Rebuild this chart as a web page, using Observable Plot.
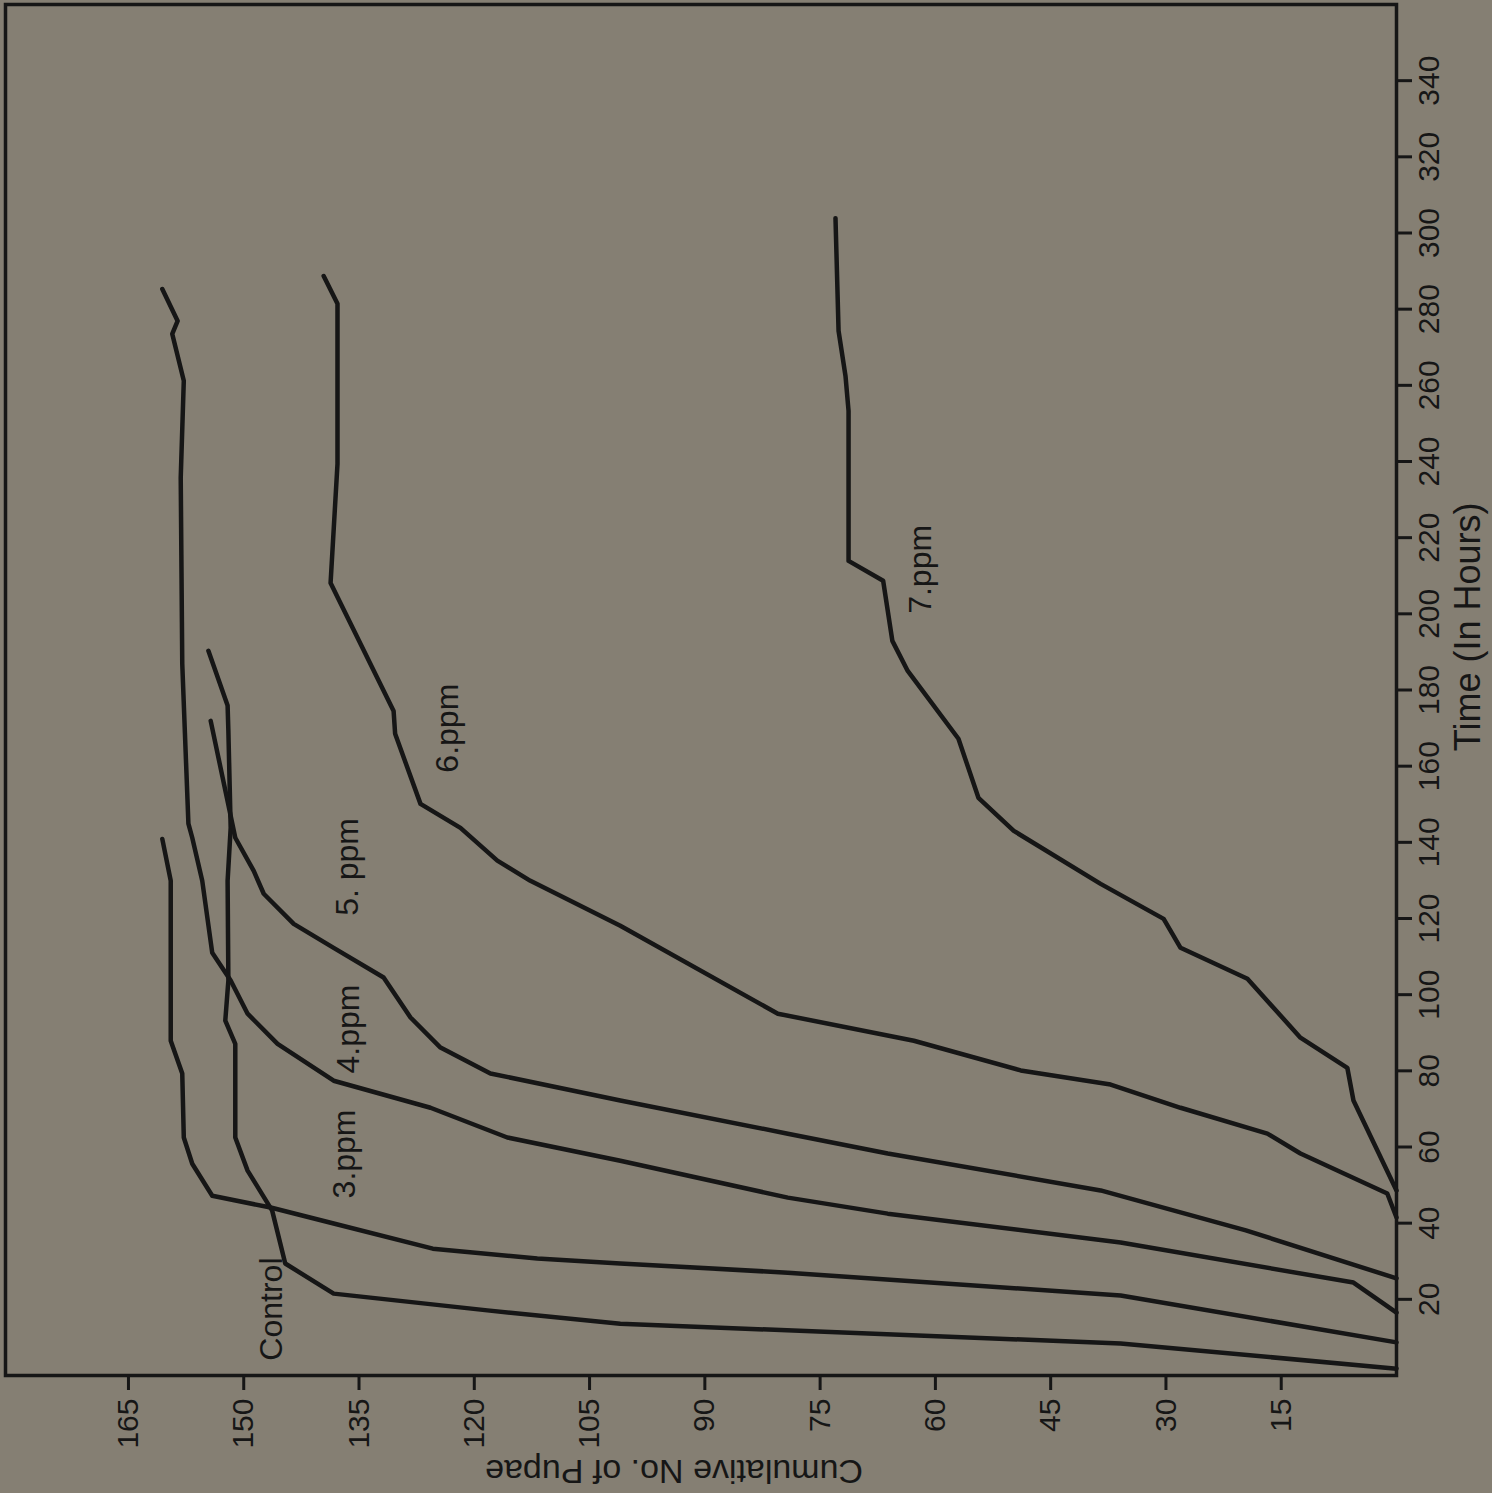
<!DOCTYPE html>
<html>
<head>
<meta charset="utf-8">
<script src="https://cdn.jsdelivr.net/npm/d3@7"></script>
<script src="https://cdn.jsdelivr.net/npm/@observablehq/plot@0.6"></script>
<style>
  html, body { margin: 0; padding: 0; background: #857f73; }
  #chart { width: 1492px; height: 1493px; }
</style>
</head>
<body>
<div id="chart"></div>
<script>
// Tick values
const timeTicks = [20, 40, 60, 80, 100, 120, 140, 160, 180, 200, 220, 240, 260, 280, 300, 320, 340];
const cumTicks = [15, 30, 45, 60, 75, 90, 105, 120, 135, 150, 165];

// Series: time (hours) and cumulative number of pupae
const controlT = [1.8, 8.4, 13.6, 17.1, 21.5, 29.4, 43.3, 53.8, 62.5, 87.1, 93.2, 103.7, 129.9, 143.8, 169.3, 175.9, 190.3];
const controlN = [0, 35.9, 101.0, 118.3, 138.3, 144.6, 146.3, 149.5, 151.1, 151.1, 152.4, 152.0, 152.1, 151.7, 152.0, 152.1, 154.6];

const ppm3T = [8.7, 21.0, 27.0, 29.4, 30.7, 33.3, 39.9, 44.1, 47.2, 55.6, 62.5, 79.3, 87.9, 129.9, 140.9];
const ppm3N = [0, 35.9, 79.2, 101.0, 111.8, 125.4, 138.3, 146.5, 154.1, 156.7, 157.8, 158.0, 159.5, 159.5, 160.6];

const ppm4T = [16.5, 24.4, 34.9, 42.5, 46.7, 56.4, 62.5, 70.3, 77.4, 87.1, 95.0, 103.7, 111.0, 129.9, 141.2, 144.9, 186.9, 235.7, 261.2, 273.5, 276.9, 285.3];
const ppm4N = [0, 5.6, 35.9, 66.2, 79.2, 101.0, 115.7, 125.7, 138.3, 145.6, 149.5, 151.7, 154.1, 155.4, 156.7, 157.2, 158.0, 158.2, 157.8, 159.3, 158.6, 160.6];

const ppm5T = [25.5, 38.1, 48.6, 58.3, 63.5, 72.2, 79.3, 86.1, 94.0, 104.5, 112.3, 118.6, 126.5, 132.5, 141.2, 171.9];
const ppm5N = [0, 19.6, 38.5, 66.2, 79.2, 101.0, 117.9, 124.4, 128.3, 131.8, 138.3, 143.5, 147.4, 148.7, 151.1, 154.3];

const ppm6T = [41.5, 47.8, 58.3, 63.5, 70.3, 76.4, 80.1, 87.9, 95.0, 118.1, 129.9, 135.2, 143.8, 150.1, 168.5, 174.5, 208.1, 239.4, 281.4, 288.7];
const ppm6N = [0, 1.2, 12.5, 16.8, 28.1, 37.2, 48.9, 62.8, 80.5, 101.0, 112.7, 117.0, 121.8, 127.0, 130.3, 130.5, 138.7, 137.8, 137.8, 139.6];

const ppm7T = [48.6, 72.2, 80.8, 88.7, 104.2, 112.3, 119.9, 129.1, 143.0, 151.7, 167.2, 185.0, 192.9, 208.7, 213.9, 253.3, 262.5, 274.3, 303.9];
const ppm7N = [0, 5.6, 6.4, 12.5, 19.4, 28.1, 30.3, 38.5, 49.8, 54.4, 57.0, 63.6, 65.6, 66.8, 71.3, 71.3, 71.7, 72.6, 73.0];

const seriesNames = ["Control", "3.ppm", "4.ppm", "5.ppm", "6.ppm", "7.ppm"];
const seriesT = [controlT, ppm3T, ppm4T, ppm5T, ppm6T, ppm7T];
const seriesN = [controlN, ppm3N, ppm4N, ppm5N, ppm6N, ppm7N];

// Curve label texts and anchors (time, cumulative)
const labelText = ["Control", "3.ppm", "4.ppm", "5. ppm", "6.ppm", "7.ppm"];
const labelT = [3.9, 46.5, 79.3, 120.7, 158.3, 200.0];
const labelN = [146.4, 136.8, 136.4, 136.5, 123.5, 61.9];

const xTitle = "Cumulative No. of Pupae";
const yTitle = "Time (In Hours)";

const rows = [];
seriesNames.forEach((name, i) => {
  seriesT[i].forEach((t, j) => rows.push({series: name, t, n: seriesN[i][j]}));
});
const labels = labelText.map((name, i) => ({name, t: labelT[i], n: labelN[i]}));

const ink = "#161616";

const chart = Plot.plot({
  width: 1492,
  height: 1493,
  marginLeft: 5,
  marginRight: 96,
  marginTop: 4,
  marginBottom: 118,
  style: {background: "#857f73", color: ink, fontFamily: "'Liberation Sans', Arial, sans-serif", fontSize: "30px"},
  x: {domain: [181, 0]},
  y: {domain: [0, 360]},
  marks: [
    Plot.frame({stroke: ink, strokeWidth: 3.5}),
    Plot.axisX({anchor: "bottom", ticks: cumTicks, tickSize: 15, tickPadding: 8, tickRotate: -90,
      textAnchor: "end", lineAnchor: "middle", fontSize: 30, strokeWidth: 3, label: null}),
    Plot.axisY({anchor: "right", ticks: timeTicks, tickSize: 15, tickPadding: 6, tickRotate: -90,
      textAnchor: "middle", lineAnchor: "top", fontSize: 30, strokeWidth: 3, label: null}),
    Plot.line(rows, {x: "n", y: "t", z: "series", stroke: ink, strokeWidth: 4.5, strokeLinejoin: "round", strokeLinecap: "round"}),
    Plot.text(labels, {x: "n", y: "t", text: "name", rotate: -90, textAnchor: "start", lineAnchor: "middle", fontSize: 32, fill: ink}),
    Plot.text([yTitle], {text: d => d, y: [196.6], frameAnchor: "right", dx: 72, rotate: -90, textAnchor: "middle", lineAnchor: "middle", fontSize: 36, fill: ink}),
    Plot.text([xTitle], {text: d => d, x: [94], frameAnchor: "bottom", dy: 95, rotate: 180, textAnchor: "middle", lineAnchor: "middle", fontSize: 34, fill: ink})
  ]
});
document.getElementById("chart").appendChild(chart);
</script>
</body>
</html>
